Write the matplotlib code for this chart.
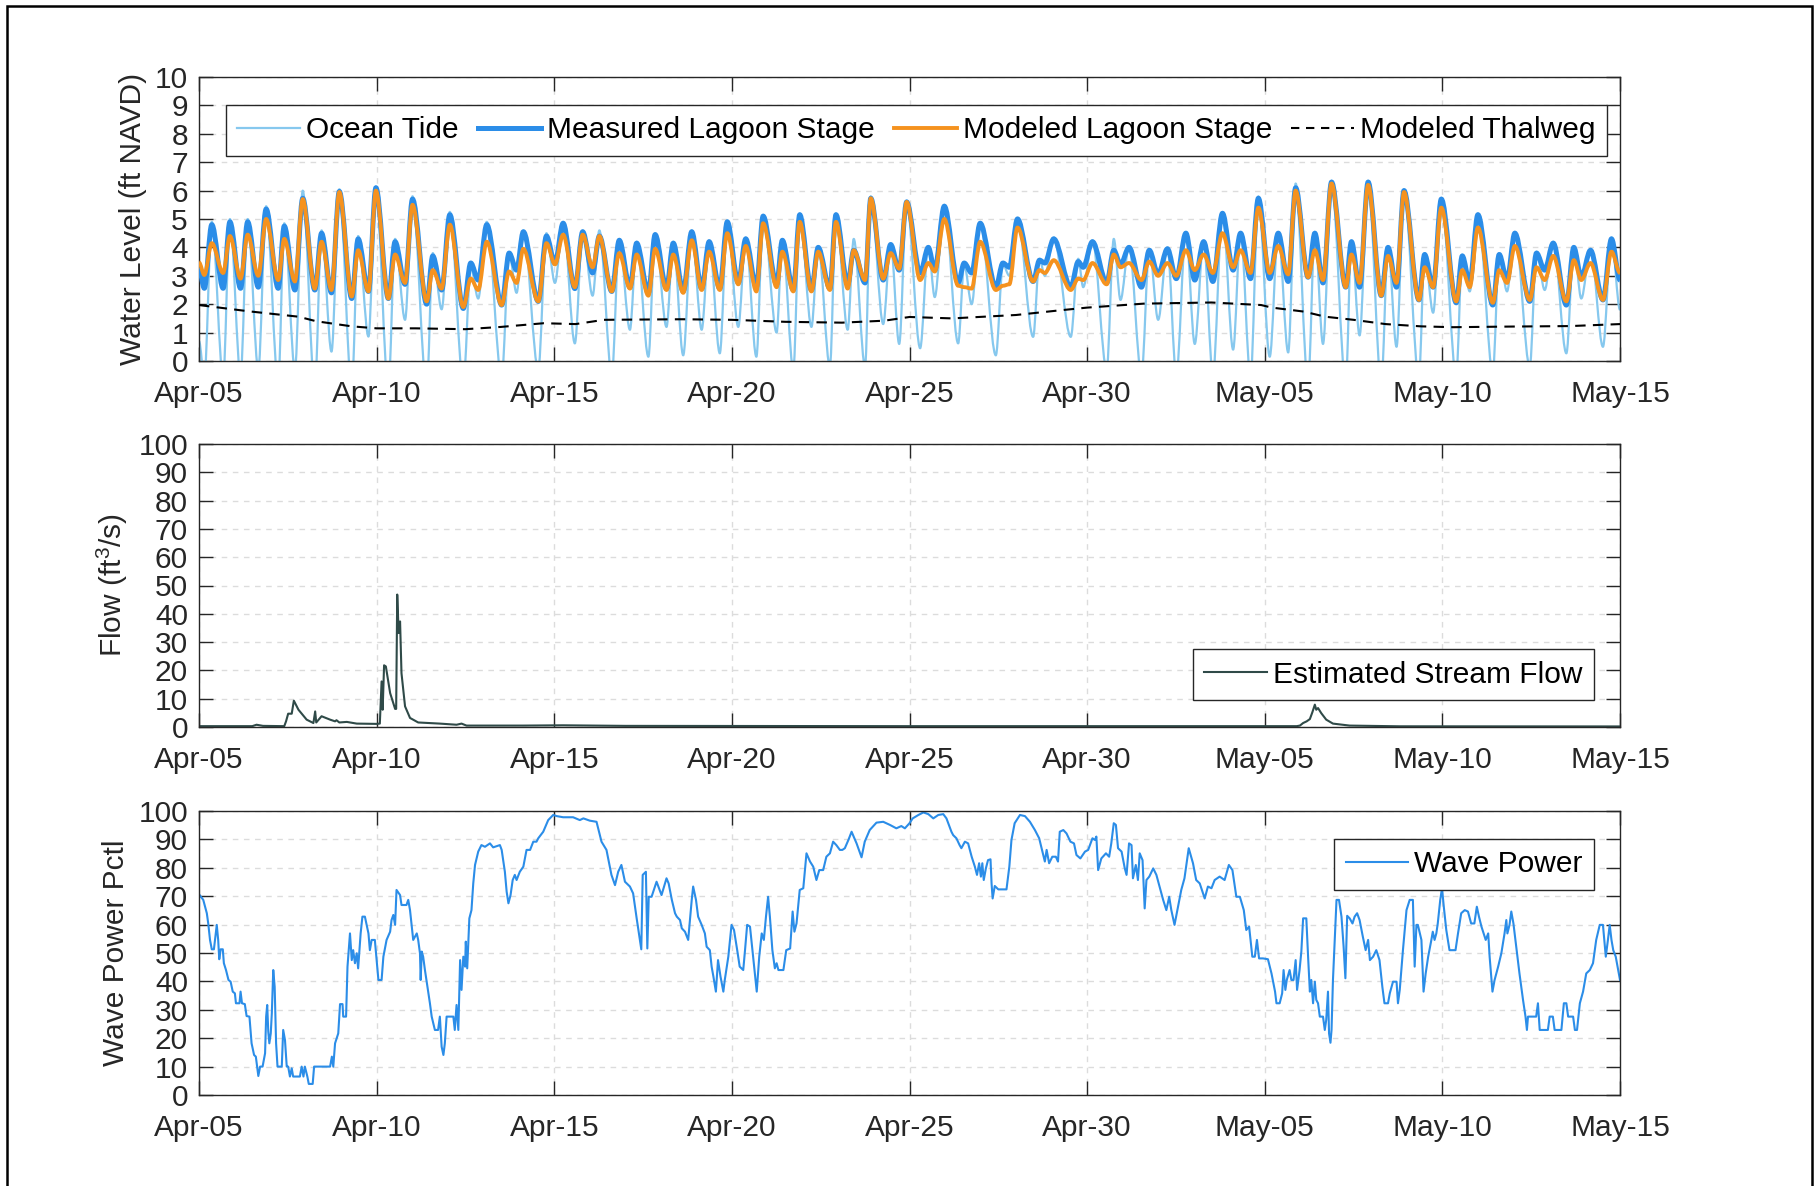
import numpy as np
import matplotlib
matplotlib.use("Agg")
import matplotlib.pyplot as plt
from matplotlib.path import Path
from matplotlib.patches import PathPatch, Rectangle
from matplotlib.lines import Line2D

plt.rcParams['font.family'] = ['Liberation Sans', 'DejaVu Sans']
plt.rcParams['mathtext.fontset'] = 'custom'
plt.rcParams['mathtext.rm'] = 'Liberation Sans'
plt.rcParams['mathtext.it'] = 'Liberation Sans'
plt.rcParams['mathtext.bf'] = 'Liberation Sans'

# ---------------- data (time in days since Apr-05 00:00) ----------------
date_ticks = [0, 5, 10, 15, 20, 25, 30, 35, 40]
date_labels = ['Apr-05', 'Apr-10', 'Apr-15', 'Apr-20', 'Apr-25',
               'Apr-30', 'May-05', 'May-10', 'May-15']

# times of tidal highs / lows
tide_t = [0.00, 0.15, 0.36, 0.68, 0.87, 1.17, 1.37, 1.67, 1.89, 2.23,
          2.40, 2.70, 2.92, 3.26, 3.45, 3.73, 3.95, 4.30, 4.48, 4.77,
          4.98, 5.33, 5.52, 5.80, 6.01, 6.41, 6.58, 6.83, 7.06, 7.44,
          7.65, 7.86, 8.10, 8.52, 8.73, 8.94, 9.13, 9.55, 9.78, 10.02,
          10.25,
          10.58, 10.80, 11.08, 11.27, 11.62, 11.83, 12.13, 12.32, 12.65, 12.84,
          13.16, 13.35, 13.63, 13.87, 14.15, 14.36, 14.66, 14.87, 15.18, 15.39,
          15.69, 15.88, 16.26, 16.42, 16.73, 16.91, 17.24, 17.43, 17.76, 17.93,
          18.26, 18.43, 18.75, 18.91, 19.26, 19.47, 19.71, 19.92, 20.30, 20.53,
          20.71, 20.98,
          21.37, 21.54, 21.75, 21.99, 22.43, 22.63, 22.81, 23.04, 23.48, 23.66,
          23.81, 24.06, 24.54, 24.75, 24.89, 25.15, 25.55, 25.75, 25.94, 26.18,
          26.53, 26.75, 27.00, 27.26, 27.51, 27.78, 28.03, 28.28, 28.54, 28.81,
          29.11, 29.32, 29.60, 29.82, 30.14, 30.38, 30.66,
          30.87, 31.22, 31.41, 31.64, 31.88, 32.28, 32.44, 32.67, 32.91, 33.28,
          33.47, 33.71, 33.92, 34.34, 34.50, 34.74, 34.97, 35.39, 35.56, 35.77,
          36.00, 36.42, 36.60, 36.82, 37.04, 37.46, 37.65, 37.88, 38.12, 38.49,
          38.70, 38.91, 39.17, 39.52, 39.76, 40.00]

ocean_tide = [0.7, -0.6, 4.9, -0.6, 5.0, -0.5, 5.0, -0.3, 5.45, -0.8,
              4.85, -0.3, 6.0, -1.0, 4.6, 0.33, 6.05, -1.0, 4.4, 0.86,
              6.15, -1.0, 4.3, 1.45, 5.8, -1.0, 3.8, 1.82, 5.25, -0.8,
              3.3, 2.2, 4.9, -0.6, 3.8, 2.4, 4.6, -0.3, 4.5, 2.75,
              4.9,
              0.62, 4.6, 2.3, 4.6, -0.5, 4.3, 1.1, 4.2, 0.15, 4.5,
              1.2, 4.2, 0.2, 4.6, 1.1, 4.25, 0.27, 4.95, 1.2, 4.35,
              0.15, 5.15, 1.0, 4.3, -0.3, 5.2, 1.2, 4.05, -0.2, 5.2,
              1.1, 4.3, -0.2, 5.8, 1.3, 4.15, 0.6, 5.65, 0.45, 4.05,
              2.25, 5.5,
              0.62, 3.4, 2.0, 4.9, 0.2, 3.4, 3.0, 5.05, 0.85, 3.6,
              3.0, 4.35, 0.85, 3.6, 2.6, 4.25, -0.3, 4.3, 2.15, 4.05,
              -0.5, 3.95, 1.45, 4.0, -0.5, 4.55, 0.6, 4.25, -0.5, 5.25,
              0.4, 4.55, -0.6, 5.8, 0.15, 4.55, 0.3,
              6.25, -0.8, 4.55, 0.6, 6.35, -0.8, 4.25, 0.9, 6.35, -0.8,
              4.05, 0.5, 6.05, -0.6, 3.8, 1.7, 5.75, -0.5, 3.75, 2.45,
              5.2, -0.4, 3.8, 2.45, 4.55, -0.2, 3.85, 2.5, 4.2, 0.27,
              4.05, 2.2, 3.95, 0.5, 4.35, 1.8]

measured_stage = [3.27, 2.56, 4.80, 2.56, 4.90, 2.56, 4.90, 2.60, 5.35, 2.56,
                  4.75, 2.50, 5.73, 2.50, 4.50, 2.40, 5.97, 2.20, 4.30, 2.45,
                  6.10, 2.20, 4.20, 2.70, 5.70, 2.00, 3.70, 2.50, 5.15, 1.85,
                  3.45, 2.85, 4.80, 1.97, 3.80, 3.20, 4.55, 2.10, 4.40, 3.45,
                  4.85,
                  2.55, 4.55, 3.10, 4.40, 2.45, 4.25, 2.60, 4.15, 2.40, 4.45,
                  2.55, 4.15, 2.45, 4.55, 2.55, 4.20, 2.55, 4.90, 2.75, 4.30,
                  2.60, 5.10, 2.70, 4.25, 2.50, 5.15, 2.50, 4.00, 2.55, 5.15,
                  2.70, 3.90, 2.75, 5.73, 2.85, 4.10, 3.20, 5.60, 3.10, 4.00,
                  3.20, 5.45,
                  2.75, 3.45, 3.10, 4.85, 2.60, 3.45, 3.30, 5.00, 2.80, 3.55,
                  3.45, 4.30, 2.60, 3.50, 3.30, 4.20, 2.75, 3.90, 3.40, 4.00,
                  2.60, 3.90, 3.05, 3.95, 2.90, 4.50, 2.85, 4.20, 2.80, 5.20,
                  3.20, 4.50, 2.90, 5.73, 2.90, 4.50, 2.80,
                  6.10, 2.95, 4.50, 2.75, 6.30, 2.60, 4.20, 2.60, 6.30, 2.30,
                  4.00, 2.60, 6.00, 2.15, 3.75, 2.60, 5.70, 2.05, 3.70, 2.75,
                  5.15, 1.97, 3.75, 2.85, 4.50, 2.10, 3.80, 3.20, 4.15, 1.97,
                  4.00, 2.95, 3.90, 2.15, 4.30, 2.85]

modeled_stage = [3.47, 3.03, 4.15, 3.10, 4.40, 2.90, 4.45, 3.00, 5.00, 2.85,
                 4.30, 2.80, 5.70, 2.55, 4.20, 2.50, 5.95, 2.27, 3.90, 2.45,
                 6.00, 2.20, 3.75, 2.75, 5.50, 2.10, 3.20, 2.55, 4.80, 1.90,
                 2.90, 2.50, 4.20, 1.97, 3.15, 2.75, 3.95, 2.10, 4.15, 3.40,
                 4.45,
                 2.60, 4.45, 3.30, 4.40, 2.45, 3.80, 2.55, 3.75, 2.30, 3.95,
                 2.50, 3.75, 2.40, 4.25, 2.50, 3.85, 2.50, 4.50, 2.70, 4.05,
                 2.45, 4.85, 2.60, 3.85, 2.45, 4.90, 2.45, 3.85, 2.50, 4.90,
                 2.55, 3.90, 2.85, 5.73, 2.90, 3.80, 3.25, 5.60, 2.85, 3.45,
                 3.15, 5.00,
                 2.65, 2.60, 2.55, 4.20, 2.50, 2.65, 2.70, 4.70, 2.80, 3.20,
                 3.10, 3.55, 2.50, 2.90, 2.85, 3.45, 2.70, 3.75, 3.30, 3.45,
                 2.85, 3.50, 3.00, 3.45, 3.00, 3.90, 3.20, 3.75, 3.10, 4.50,
                 3.30, 3.90, 3.10, 5.40, 3.10, 4.05, 3.05,
                 6.00, 2.95, 3.90, 2.85, 6.25, 2.60, 3.75, 2.75, 6.20, 2.30,
                 3.70, 2.75, 5.95, 2.15, 3.30, 2.60, 5.40, 2.10, 3.20, 2.60,
                 4.70, 2.05, 3.20, 2.75, 4.05, 2.15, 3.30, 2.85, 3.70, 2.10,
                 3.55, 2.85, 3.45, 2.15, 3.85, 3.10]

thalweg_t = [0.0, 1.4, 2.8, 3.3, 4.3, 5.0, 6.1, 7.5, 8.5, 9.7, 10.6, 11.4,
             13.6, 15.0, 16.5, 18.1, 19.3, 20.0, 21.2, 23.0, 24.2, 25.0,
             26.6, 28.5, 29.9, 30.2, 31.1, 31.7, 32.5, 33.4, 34.4, 35.3,
             36.7, 38.6, 40.0]
thalweg_level = [1.97, 1.75, 1.56, 1.40, 1.22, 1.15, 1.15, 1.12, 1.20, 1.33,
                 1.30, 1.45, 1.47, 1.45, 1.38, 1.35, 1.42, 1.55, 1.50, 1.62,
                 1.78, 1.88, 2.02, 2.06, 1.97, 1.88, 1.74, 1.56, 1.45, 1.30,
                 1.22, 1.19, 1.21, 1.23, 1.30]

flow_t = [0.0, 1.5, 1.62, 1.8, 2.4, 2.45, 2.51, 2.61, 2.67, 2.80, 3.03,
          3.22, 3.27, 3.30, 3.45, 3.69, 3.83, 3.87, 3.95, 4.16, 4.44, 5.0,
          5.09, 5.14, 5.17, 5.21, 5.26, 5.38, 5.52, 5.55, 5.58, 5.62, 5.66,
          5.70, 5.80, 5.94, 6.17, 6.78, 7.25, 7.39, 7.53, 9.13, 10.25, 12.0,
          20.0, 30.9, 30.99, 31.08, 31.18, 31.27, 31.34, 31.41, 31.45, 31.50,
          31.59, 31.73, 31.92, 32.39, 33.8, 40.0]
flow_cfs = [0.3, 0.3, 0.8, 0.4, 0.3, 2.0, 4.7, 4.7, 9.3, 6.1, 2.6,
            1.4, 5.5, 1.6, 3.8, 2.6, 2.0, 2.4, 1.6, 1.8, 1.2, 1.1,
            1.2, 16.1, 6.1, 21.8, 21.4, 12.0, 6.4, 6.4, 46.8, 33.2, 37.3,
            19.0, 7.3, 3.2, 1.6, 1.2, 0.8, 1.2, 0.5, 0.5, 0.6, 0.4,
            0.3, 0.3, 0.5, 1.4, 2.0, 2.8, 5.2, 7.9, 6.1, 6.7,
            4.9, 2.6, 1.2, 0.5, 0.25, 0.2]

wave_t = [0.0, 0.12, 0.22, 0.26, 0.31, 0.36, 0.42, 0.45, 0.50, 0.54, 0.57, 0.61,
          0.67, 0.70, 0.76, 0.83, 0.89, 0.95, 1.01, 1.04, 1.14, 1.17, 1.21, 1.29,
          1.34, 1.42, 1.48, 1.55, 1.60, 1.67, 1.72, 1.79, 1.86, 1.89, 1.92, 1.95,
          1.98, 2.02, 2.05, 2.09, 2.13, 2.17, 2.21, 2.33, 2.37, 2.42, 2.47, 2.51,
          2.56, 2.61, 2.65, 2.84, 2.89, 2.94, 2.98, 3.05, 3.09, 3.20, 3.24, 3.69,
          3.74, 3.78, 3.83, 3.92, 3.97, 4.04, 4.06, 4.14, 4.18, 4.25, 4.30, 4.34,
          4.39, 4.44, 4.48, 4.55, 4.60, 4.67, 4.77, 4.81, 4.86, 4.95, 5.05, 5.14,
          5.19, 5.28, 5.38, 5.42, 5.47, 5.52, 5.56, 5.66, 5.70, 5.84, 5.89, 5.94,
          6.03, 6.13, 6.17, 6.22, 6.24, 6.27, 6.31, 6.36, 6.43, 6.50, 6.55, 6.64,
          6.73, 6.78, 6.83, 6.88, 6.92, 6.97, 7.16, 7.20, 7.25, 7.30, 7.35, 7.39,
          7.44, 7.49, 7.51, 7.55, 7.61, 7.67, 7.72, 7.77, 7.86, 7.95, 8.05, 8.19,
          8.28, 8.47, 8.52, 8.61, 8.66, 8.71, 8.77, 8.83, 8.89, 8.94, 9.03, 9.13,
          9.22, 9.32, 9.41, 9.50, 9.55, 9.69, 9.83, 9.97, 10.07, 10.25, 10.53, 10.72,
          10.82, 11.00, 11.19, 11.33, 11.47, 11.61, 11.71, 11.80, 11.89, 11.99, 12.13, 12.22,
          12.32, 12.41, 12.45, 12.49, 12.58, 12.62, 12.66, 12.74, 12.88, 13.02, 13.16,
          13.22, 13.31, 13.40, 13.45, 13.54, 13.59, 13.68, 13.77, 13.87, 13.91, 13.99, 14.05,
          14.15, 14.24, 14.29, 14.38, 14.43, 14.48, 14.55, 14.61, 14.68, 14.76, 14.80, 14.90,
          14.99, 15.06, 15.15, 15.22, 15.32, 15.37, 15.43, 15.51, 15.58, 15.65, 15.70, 15.77,
          15.84, 15.90, 15.96, 16.02, 16.07, 16.14, 16.21, 16.26, 16.31, 16.45, 16.53, 16.64,
          16.71, 16.76, 16.82, 16.91, 17.01, 17.10, 17.20, 17.29, 17.38, 17.46, 17.57, 17.66,
          17.76, 17.85, 17.94, 18.04, 18.11, 18.18, 18.28, 18.37, 18.51, 18.65, 18.74, 18.88,
          19.07, 19.26, 19.45, 19.63, 19.77, 19.87, 20.00, 20.09, 20.25, 20.39, 20.53, 20.67,
          20.81, 20.95, 21.04, 21.18, 21.23, 21.32, 21.41, 21.46, 21.56, 21.65, 21.75, 21.84,
          21.90, 21.96, 22.01, 22.05, 22.09, 22.15, 22.21, 22.28, 22.31, 22.34, 22.40, 22.50,
          22.73, 22.81, 22.87, 22.96, 23.11, 23.25, 23.39, 23.53, 23.65, 23.74, 23.81, 23.86,
          23.93, 24.02, 24.12, 24.18, 24.23, 24.33, 24.42, 24.53, 24.63, 24.70, 24.81, 24.94,
          25.03, 25.15, 25.22, 25.26, 25.31, 25.40, 25.53, 25.62, 25.68, 25.75, 25.81, 25.87,
          25.97, 26.06, 26.11, 26.18, 26.25, 26.29, 26.37, 26.43, 26.48, 26.56,
          26.62, 26.67, 26.75, 26.86, 26.95, 27.04, 27.14, 27.23, 27.31, 27.37, 27.46, 27.56,
          27.65, 27.74, 27.86, 27.98, 28.07, 28.17, 28.31, 28.40, 28.50, 28.59, 28.73, 28.87,
          28.99, 29.09, 29.20, 29.30, 29.41, 29.48, 29.56, 29.65, 29.72, 29.78, 29.84, 29.95,
          30.09, 30.19, 30.29, 30.33, 30.42, 30.49, 30.53, 30.58, 30.62, 30.70, 30.75, 30.81,
          30.87, 30.91, 30.98, 31.03, 31.08, 31.17, 31.22, 31.27, 31.31, 31.36, 31.41, 31.45,
          31.50, 31.55, 31.64, 31.69, 31.73, 31.78, 31.81, 31.85, 31.88, 31.92, 32.02, 32.09,
          32.16, 32.22, 32.27, 32.32, 32.39, 32.47, 32.53, 32.60, 32.67, 32.76, 32.84, 32.91,
          32.96, 33.05, 33.14, 33.23, 33.31, 33.37, 33.47, 33.52, 33.61, 33.71, 33.75, 33.80,
          33.89, 33.99, 34.08, 34.17, 34.22, 34.27, 34.31, 34.41, 34.47, 34.53, 34.60, 34.69,
          34.73, 34.78, 34.83, 34.87, 34.94, 34.99, 35.04, 35.11, 35.20, 35.37, 35.44, 35.53,
          35.63, 35.72, 35.81, 35.90, 35.97, 36.03, 36.10, 36.16, 36.22, 36.29, 36.33, 36.41,
          36.47, 36.57, 36.66, 36.75, 36.80, 36.83, 36.89, 36.94, 37.00, 37.08, 37.17, 37.27,
          37.34, 37.38, 37.41, 37.64, 37.69, 37.74, 37.97, 38.02, 38.11, 38.16, 38.35, 38.42,
          38.49, 38.54, 38.68, 38.73, 38.79, 38.87, 38.96, 39.05, 39.15, 39.24, 39.33, 39.43,
          39.52, 39.60, 39.66, 39.71, 39.76, 39.81, 39.88, 40.00]
wave_pctl = [70.7, 68.7, 64.0, 60.4, 54.6, 51.3, 51.3, 54.6, 59.9, 54.6, 47.8, 51.3,
             51.3, 46.4, 44.0, 40.5, 39.9, 36.4, 35.8, 32.3, 32.3, 36.4, 32.3, 32.0,
             27.8, 27.6, 18.2, 14.1, 13.5, 6.7, 10.0, 10.0, 14.7, 27.6, 31.7, 22.3,
             18.2, 21.7, 28.8, 44.0, 38.1, 18.2, 10.0, 10.0, 22.9, 19.4, 10.0, 10.0,
             6.5, 9.4, 6.5, 6.5, 10.0, 6.5, 10.0, 6.5, 3.9, 3.9, 10.0, 10.0,
             13.5, 10.0, 18.2, 21.7, 32.0, 32.0, 27.6, 27.6, 45.2, 56.9, 47.5, 51.0,
             46.4, 49.9, 44.6, 56.9, 62.8, 62.8, 56.9, 51.0, 54.6, 54.6, 40.5, 40.5,
             48.7, 54.6, 57.5, 61.6, 63.4, 59.9, 72.2, 70.4, 66.9, 66.9, 68.7, 65.1,
             54.6, 56.9, 54.6, 49.9, 40.5, 50.5, 48.7, 44.0, 38.1, 32.3, 27.6, 22.9,
             22.9, 27.6, 17.0, 14.1, 18.2, 27.6, 27.6, 22.9, 31.7, 22.9, 47.5, 37.0,
             48.7, 45.2, 54.0, 44.6, 62.2, 65.1, 74.5, 81.0, 85.7, 88.0, 87.4, 88.6,
             87.2, 88.0, 86.3, 78.6, 71.6, 67.5, 70.4, 75.7, 77.5, 75.7, 78.6, 80.4,
             86.3, 86.3, 89.2, 89.2, 90.4, 92.7, 96.8, 98.6, 98.2, 97.8, 97.8, 96.8,
             97.4, 96.6, 96.2, 89.2, 86.3, 77.5, 73.9, 78.6, 81.0, 75.1, 73.4, 71.0,
             62.2, 54.6, 51.3, 77.5, 78.6, 51.6, 69.8, 69.8, 75.1, 70.4, 76.3,
             74.5, 68.7, 64.0, 62.8, 61.6, 58.7, 57.5, 54.6, 68.7, 73.4, 68.7, 62.8,
             59.9, 56.9, 52.2, 51.0, 45.2, 41.7, 36.4, 47.5, 41.7, 36.4, 40.5, 48.7,
             59.9, 58.1, 51.0, 45.2, 44.0, 51.0, 59.9, 59.3, 51.0, 42.8, 36.4, 48.7,
             56.9, 54.6, 62.8, 69.8, 62.8, 51.0, 44.6, 46.4, 44.0, 44.0, 51.0, 51.6,
             64.6, 57.5, 60.4, 72.2, 72.8, 85.1, 82.2, 80.4, 75.7, 79.2, 79.2, 83.9,
             85.1, 89.2, 88.0, 86.3, 86.3, 86.9, 89.8, 92.7, 88.6, 83.7, 89.2, 93.3,
             95.9, 96.2, 95.1, 93.9, 94.7, 93.9, 95.7, 97.4, 98.6, 99.5, 98.9, 97.4,
             98.6, 98.9, 97.4, 92.7, 91.5, 90.4, 88.0, 86.9, 89.2, 88.6, 83.9, 80.4,
             77.5, 81.6, 76.9, 81.6, 75.7, 79.8, 82.7, 83.0, 74.5, 69.2, 73.6, 72.4,
             72.4, 80.4, 89.8, 95.7, 98.6, 98.2, 96.2, 93.3, 90.4, 85.7, 82.2, 86.3,
             81.6, 83.9, 83.9, 82.2, 92.7, 93.3, 92.1, 89.2, 88.6, 84.5, 83.3, 85.7,
             86.3, 90.4, 89.8, 91.0, 79.2, 83.3, 85.1, 83.9, 88.6, 95.7, 95.1, 86.9,
             85.7, 79.8, 77.5, 88.6, 88.0, 76.3, 81.0, 75.7, 85.1, 82.7,
             65.7, 75.7, 76.9, 79.8, 77.5, 73.4, 68.7, 65.1, 69.8, 65.1, 59.9, 66.3,
             72.2, 76.3, 86.9, 81.6, 75.7, 74.5, 69.2, 73.4, 72.8, 75.7, 76.9, 75.7,
             81.0, 79.2, 69.8, 69.8, 65.1, 58.1, 59.3, 48.7, 48.7, 54.6, 48.1, 48.1,
             47.8, 42.8, 36.4, 32.3, 32.3, 35.8, 44.0, 37.0, 40.5, 44.0, 40.5, 40.5,
             47.5, 37.0, 44.0, 50.5, 62.2, 62.2, 48.7, 36.4, 40.5, 32.3, 39.9, 33.5,
             32.3, 27.6, 27.6, 22.9, 26.4, 36.4, 21.7, 18.4, 22.9, 40.5, 68.7, 68.7,
             62.8, 52.2, 41.1, 63.1, 62.2, 60.4, 62.8, 64.0, 61.6, 55.8, 51.0, 54.6,
             47.5, 48.7, 51.0, 47.5, 38.1, 32.3, 32.3, 35.8, 39.9, 39.9, 32.3, 37.0,
             51.0, 65.1, 68.7, 68.7, 45.2, 59.9, 59.9, 54.6, 36.4, 42.8, 48.7, 54.6,
             57.5, 54.6, 56.9, 60.4, 68.7, 72.8, 66.3, 58.1, 51.0, 51.0, 56.9, 64.0,
             65.1, 64.6, 60.4, 60.4, 66.3, 62.8, 59.3, 56.9, 54.6, 56.9, 48.7, 36.4,
             40.5, 45.2, 49.9, 56.9, 61.6, 56.9, 59.9, 64.6, 60.4, 52.2, 42.8, 33.5,
             27.6, 22.9, 27.6, 27.6, 32.3, 22.9, 22.9, 27.6, 27.6, 22.9, 22.9, 32.3,
             32.3, 27.6, 27.6, 22.9, 22.9, 32.3, 36.4, 42.8, 44.0, 46.4, 54.6, 59.9,
             59.9, 48.7, 54.6, 59.9, 54.6, 51.0, 48.7, 40.5]

# ---------------- styling ----------------
FS = 21.5
AXC = '#262626'
C_OCEAN = '#86c8ee'
C_MEAS = '#2b8de8'
C_MOD = '#f5921e'
C_FLOW = '#2f4a48'
C_WAVE = '#2b8de8'

W, H = 1816, 1186
fig = plt.figure(figsize=(W / 100, H / 100), dpi=100)

left = 199 / W
width = 1421 / W


def make_ax(top_px, bot_px):
    ax = fig.add_axes([left, 1 - bot_px / H, width, (bot_px - top_px) / H])
    ax.set_xlim(0, 40)
    ax.set_xticks(date_ticks)
    ax.set_xticklabels(date_labels)
    ax.tick_params(axis='both', direction='in', length=10, width=1.0,
                   top=True, right=True, labelsize=FS, colors=AXC)
    ax.tick_params(axis='x', pad=14)
    ax.tick_params(axis='y', pad=8)
    for s in ax.spines.values():
        s.set_color(AXC)
        s.set_linewidth(1.0)
    ax.grid(True, linestyle=(0, (4, 4)), color='#dcdcdc', linewidth=1.0)
    ax.set_axisbelow(True)
    return ax


def tide_path(t, v):
    t = np.asarray(t, float)
    v = np.asarray(v, float)
    verts = [(t[0], v[0])]
    codes = [Path.MOVETO]
    for i in range(len(t) - 1):
        d = (t[i + 1] - t[i]) / 3.0
        verts += [(t[i] + d, v[i]), (t[i + 1] - d, v[i + 1]), (t[i + 1], v[i + 1])]
        codes += [Path.CURVE4] * 3
    return Path(verts, codes)


LEG_KW = dict(fontsize=FS, frameon=True, fancybox=False, framealpha=1,
              edgecolor=AXC, handlelength=2.1, handletextpad=0.2,
              borderpad=0.38, borderaxespad=0, bbox_transform=fig.transFigure)

# ---------- top: water level ----------
ax1 = make_ax(77, 361)
ax1.set_ylim(0, 10)
ax1.set_yticks(range(0, 11))
for vals, col, lw, z in [(ocean_tide, C_OCEAN, 1.6, 2),
                         (measured_stage, C_MEAS, 3.6, 3),
                         (modeled_stage, C_MOD, 2.8, 4)]:
    ax1.add_patch(PathPatch(tide_path(tide_t, vals), facecolor='none',
                            edgecolor=col, lw=lw, joinstyle='round', zorder=z))
ax1.plot(thalweg_t, thalweg_level, color='black', lw=1.5,
         linestyle=(0, (5, 3.5)), zorder=5)
ax1.set_ylabel('Water Level (ft NAVD)', fontsize=FS, color=AXC)
ax1.yaxis.set_label_coords(-0.0366, 0.5)
handles = [Line2D([], [], color=C_OCEAN, lw=1.6),
           Line2D([], [], color=C_MEAS, lw=3.6),
           Line2D([], [], color=C_MOD, lw=2.8),
           Line2D([], [], color='black', lw=1.5, linestyle=(0, (4, 3.2)))]
labels = ['Ocean Tide', 'Measured Lagoon Stage', 'Modeled Lagoon Stage',
          'Modeled Thalweg']
leg1 = ax1.legend(handles, labels, ncol=4, loc='upper left',
                  bbox_to_anchor=(226 / W, 1 - 105 / H), columnspacing=0.65,
                  **LEG_KW)
leg1.get_frame().set_linewidth(1.0)

# ---------- middle: flow ----------
ax2 = make_ax(444, 727)
ax2.set_ylim(0, 100)
ax2.set_yticks(range(0, 101, 10))
ax2.plot(flow_t, flow_cfs, color=C_FLOW, lw=1.5, label='Estimated Stream Flow')
ax2.set_ylabel('Flow (ft$^3$/s)', fontsize=FS, color=AXC)
ax2.yaxis.set_label_coords(-0.0489, 0.5)
leg2 = ax2.legend(loc='lower right', bbox_to_anchor=(1594 / W, 1 - 700 / H),
                  **LEG_KW)
leg2.get_frame().set_linewidth(1.0)

# ---------- bottom: wave power ----------
ax3 = make_ax(811, 1095)
ax3.set_ylim(0, 100)
ax3.set_yticks(range(0, 101, 10))
ax3.plot(wave_t, wave_pctl, color=C_WAVE, lw=1.5, label='Wave Power')
ax3.set_ylabel('Wave Power Pctl', fontsize=FS, color=AXC)
ax3.yaxis.set_label_coords(-0.0489, 0.5)
leg3 = ax3.legend(loc='upper right', bbox_to_anchor=(1594 / W, 1 - 839 / H),
                  **LEG_KW)
leg3.get_frame().set_linewidth(1.0)

# figure border
fig.add_artist(Rectangle((7 / W, -0.02), (1812 - 7) / W, 1 - 6 / H + 0.02,
                         transform=fig.transFigure, fill=False,
                         edgecolor='black', lw=1.8))

fig.savefig('out.png', dpi=100)
